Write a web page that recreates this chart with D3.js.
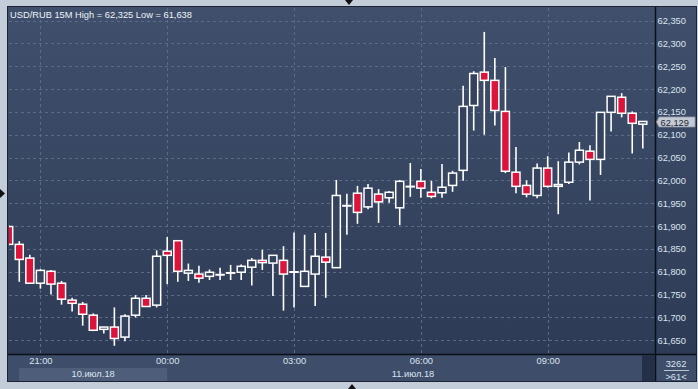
<!DOCTYPE html>
<html><head><meta charset="utf-8">
<script src="https://cdn.jsdelivr.net/npm/d3@7"></script>
<style>
html,body{margin:0;padding:0;background:#c3cdd9;}
svg{display:block;}
text{font-family:"Liberation Sans",Arial,sans-serif;}
</style></head>
<body>
<svg id="chart" width="698" height="389"></svg>
<script>
const title = "USD/RUB 15M High = 62,325 Low = 61,638";
const times = ["20:15","20:30","20:45","21:00","21:15","21:30","21:45","22:00","22:15","22:30","22:45","23:00","23:15","23:30","23:45",
"00:00","00:15","00:30","00:45","01:00","01:15","01:30","01:45","02:00","02:15","02:30","02:45",
"03:00","03:15","03:30","03:45","04:00","04:15","04:30","04:45","05:00","05:15","05:30","05:45",
"06:00","06:15","06:30","06:45","07:00","07:15","07:30","07:45","08:00","08:15","08:30","08:45",
"09:00","09:15","09:30","09:45","10:00","10:15","10:30","10:45","11:00","11:15"];
const openV  = [61.899,61.860,61.830,61.775,61.801,61.775,61.738,61.729,61.705,61.674,61.679,61.657,61.705,61.742,61.727,
61.845,61.868,61.797,61.795,61.790,61.794,61.798,61.799,61.810,61.825,61.819,61.825,
61.800,61.768,61.795,61.832,61.809,61.945,61.972,61.942,61.970,61.962,61.940,61.987,
61.998,61.974,61.973,61.989,62.022,62.164,62.237,62.219,62.151,62.018,61.989,61.967,
62.027,61.987,61.996,62.040,62.064,62.046,62.149,62.182,62.147,62.123];
const highV  = [61.902,61.867,61.837,61.806,61.804,61.780,61.743,61.734,61.709,61.679,61.722,61.707,61.749,61.749,61.847,
61.876,61.868,61.818,61.813,61.805,61.809,61.815,61.816,61.830,61.848,61.836,61.856,
61.886,61.881,61.885,61.885,62.001,61.971,61.988,61.992,61.981,61.977,62.001,62.038,
62.025,61.999,62.036,62.021,62.207,62.239,62.325,62.268,62.248,62.073,62.000,62.037,
62.053,62.042,62.061,62.084,62.077,62.149,62.184,62.191,62.151,62.129];
const lowV   = [61.858,61.778,61.774,61.763,61.750,61.728,61.713,61.682,61.670,61.665,61.638,61.648,61.700,61.723,61.722,
61.773,61.778,61.780,61.776,61.782,61.782,61.782,61.782,61.770,61.804,61.747,61.715,
61.722,61.768,61.725,61.743,61.809,61.881,61.905,61.937,61.907,61.951,61.902,61.964,
61.962,61.961,61.962,61.975,61.999,62.109,62.100,62.120,62.016,61.972,61.963,61.961,
61.984,61.926,61.992,62.035,61.956,62.012,62.107,62.138,62.059,62.070];
const closeV = [61.860,61.827,61.775,61.803,61.773,61.740,61.731,61.707,61.672,61.679,61.654,61.703,61.742,61.724,61.834,
61.836,61.801,61.803,61.786,61.799,61.794,61.798,61.812,61.825,61.820,61.836,61.795,
61.800,61.801,61.834,61.821,61.967,61.945,61.930,61.983,61.953,61.974,61.998,61.987,
61.983,61.965,61.985,62.016,62.162,62.234,62.219,62.153,62.020,61.987,61.970,62.027,
61.987,61.991,62.040,62.066,62.046,62.149,62.184,62.147,62.125,62.129];
const yTicks = [61.65,61.70,61.75,61.80,61.85,61.90,61.95,62.00,62.05,62.10,62.15,62.20,62.25,62.30,62.35];
const xTickLabels = ["21:00","00:00","03:00","06:00","09:00"];
const dayLabels = ["10.июл.18","11.июл.18"];
const lastPrice = 62.129;
const barCount = "3262";
const visibleCount = ">61<";

const loc = d3.formatLocale({decimal:",",thousands:"\u00a0",grouping:[3],currency:["",""]});
const fmt = loc.format(".3f");
const FS = "9.3px";

const svg = d3.select("#chart");
const W=698,H=389;
const panel = {l:8,t:7,r:696,b:381};
const plot = {l:9,t:8,r:655,b:354};

const defs = svg.append("defs");
const g1 = defs.append("linearGradient").attr("id","bg").attr("x1",0).attr("y1",0).attr("x2",0).attr("y2",1);
g1.append("stop").attr("offset","0%").attr("stop-color","#40506c");
g1.append("stop").attr("offset","100%").attr("stop-color","#2c3954");
defs.append("clipPath").attr("id","clip").append("rect")
  .attr("x",plot.l).attr("y",plot.t).attr("width",plot.r-plot.l).attr("height",plot.b-plot.t);

// outer background
svg.append("rect").attr("width",W).attr("height",H).attr("fill","#c3cdd9");
svg.append("rect").attr("x",panel.l-1).attr("y",panel.t-1).attr("width",panel.r-panel.l+2).attr("height",panel.b-panel.t+2).attr("fill","#1c2434");
svg.append("rect").attr("x",panel.l).attr("y",panel.t).attr("width",panel.r-panel.l).attr("height",panel.b-panel.t).attr("fill","url(#bg)");
// x axis area
svg.append("rect").attr("x",panel.l).attr("y",plot.b).attr("width",plot.r-panel.l).attr("height",panel.b-plot.b).attr("fill","#3e4d69");
svg.append("rect").attr("x",plot.r).attr("y",plot.b).attr("width",panel.r-plot.r).attr("height",panel.b-plot.b).attr("fill","#3e4d69");

const x = d3.scalePoint().domain(times).range([8.7,642.8]);
const y = d3.scaleLinear().domain([61.65,62.35]).range([340.3,20.5]);

// grid
const grid = svg.append("g").attr("stroke","#5b6a86").attr("stroke-width",1).attr("stroke-dasharray","3,3");
grid.selectAll("line.h").data(yTicks).join("line").attr("class","h")
  .attr("x1",plot.l).attr("x2",plot.r).attr("y1",d=>Math.round(y(d))+0.5).attr("y2",d=>Math.round(y(d))+0.5);
grid.selectAll("line.v").data(xTickLabels).join("line").attr("class","v")
  .attr("x1",d=>Math.round(x(d))+0.5).attr("x2",d=>Math.round(x(d))+0.5).attr("y1",plot.t).attr("y2",plot.b);

// candles
const data = times.map((t,i)=>({t,o:openV[i],h:highV[i],l:lowV[i],c:closeV[i]}));
const cg = svg.append("g").attr("clip-path","url(#clip)");
const bw = 8;
const c = cg.selectAll("g").data(data).join("g");
c.append("line").attr("x1",d=>x(d.t)).attr("x2",d=>x(d.t)).attr("y1",d=>y(d.h)).attr("y2",d=>y(d.l))
  .attr("stroke","#ffffff").attr("stroke-width",1.6);
c.append("rect").attr("x",d=>x(d.t)-bw/2).attr("width",bw)
  .attr("y",d=>y(Math.max(d.o,d.c))).attr("height",d=>Math.max(0.5,Math.abs(y(d.o)-y(d.c))))
  .attr("fill",d=>d.c<d.o?"#dc143c":"#34425e")
  .attr("stroke","#ffffff").attr("stroke-width",1.5);

// axis lines
svg.append("line").attr("x1",plot.r+0.5).attr("x2",plot.r+0.5).attr("y1",panel.t).attr("y2",panel.b).attr("stroke","#0a0f18").attr("stroke-width",1.5);
svg.append("line").attr("x1",panel.l).attr("x2",panel.r).attr("y1",plot.b+0.5).attr("y2",plot.b+0.5).attr("stroke","#0a0f18").attr("stroke-width",1.5);

// right axis
const ya = svg.append("g").attr("transform",`translate(${plot.r},0)`)
  .call(d3.axisRight(y).tickValues(yTicks).tickFormat(fmt).tickSize(0).tickPadding(2.5));
ya.select(".domain").remove();
ya.selectAll("text").attr("fill","#dbe4ef").style("font-size",FS).style("font-family","'Liberation Sans',Arial,sans-serif");

// last price marker
const lp = y(lastPrice);
svg.append("path").attr("d",`M${plot.r+1.5},${lp+0.5} L${plot.r+4},${lp-4.5} L${panel.r-1},${lp-4.5} L${panel.r-1},${lp+5.5} L${plot.r+4},${lp+5.5} Z`)
  .attr("fill","#c4cad4").attr("stroke","#8d96a6").attr("stroke-width",0.8);
svg.append("text").attr("x",plot.r+5.5).attr("y",lp+0.8).attr("dy","0.35em").attr("fill","#1e2634")
  .style("font-size",FS).text(fmt(lastPrice));

// x axis
svg.append("rect").attr("x",19).attr("y",368).attr("width",x("00:00")-19).attr("height",panel.b-368).attr("fill","#4e5d79");
svg.append("rect").attr("x",642).attr("y",plot.b+1).attr("width",plot.r-642).attr("height",panel.b-plot.b-1).attr("fill","#243048");
const xa = svg.append("g").attr("transform",`translate(0,${plot.b})`)
  .call(d3.axisBottom(x).tickValues(xTickLabels).tickSize(0).tickPadding(3));
xa.select(".domain").remove();
xa.selectAll("text").attr("fill","#dbe4ef").style("font-size",FS).style("font-family","'Liberation Sans',Arial,sans-serif");
svg.append("text").attr("x",(19+x("00:00"))/2).attr("y",373.5).attr("dy","0.35em").attr("text-anchor","middle")
  .attr("fill","#dbe4ef").style("font-size",FS).text(dayLabels[0]);
svg.append("text").attr("x",413).attr("y",373.5).attr("dy","0.35em").attr("text-anchor","middle")
  .attr("fill","#dbe4ef").style("font-size",FS).text(dayLabels[1]);

// bottom-right counters
svg.append("text").attr("x",676).attr("y",363.5).attr("dy","0.35em").attr("text-anchor","middle").attr("fill","#dbe4ef").style("font-size",FS).text(barCount);
svg.append("line").attr("x1",664).attr("x2",689).attr("y1",370.5).attr("y2",370.5).attr("stroke","#b8c3d3").attr("stroke-width",1);
svg.append("text").attr("x",676).attr("y",377).attr("dy","0.35em").attr("text-anchor","middle").attr("fill","#dbe4ef").style("font-size",FS).text(visibleCount);

// title
svg.append("text").attr("x",10).attr("y",14.5).attr("dy","0.35em").attr("fill","#eef3f8").style("font-size",FS).text(title);

// frame arrows
svg.append("path").attr("d","M345,0 L353,0 L349,5 Z").attr("fill","#111");
svg.append("path").attr("d","M0,189 L0,198 L5,193.5 Z").attr("fill","#111");
svg.append("path").attr("d","M348,389 L356,389 L352,384 Z").attr("fill","#111");
</script>
</body></html>
